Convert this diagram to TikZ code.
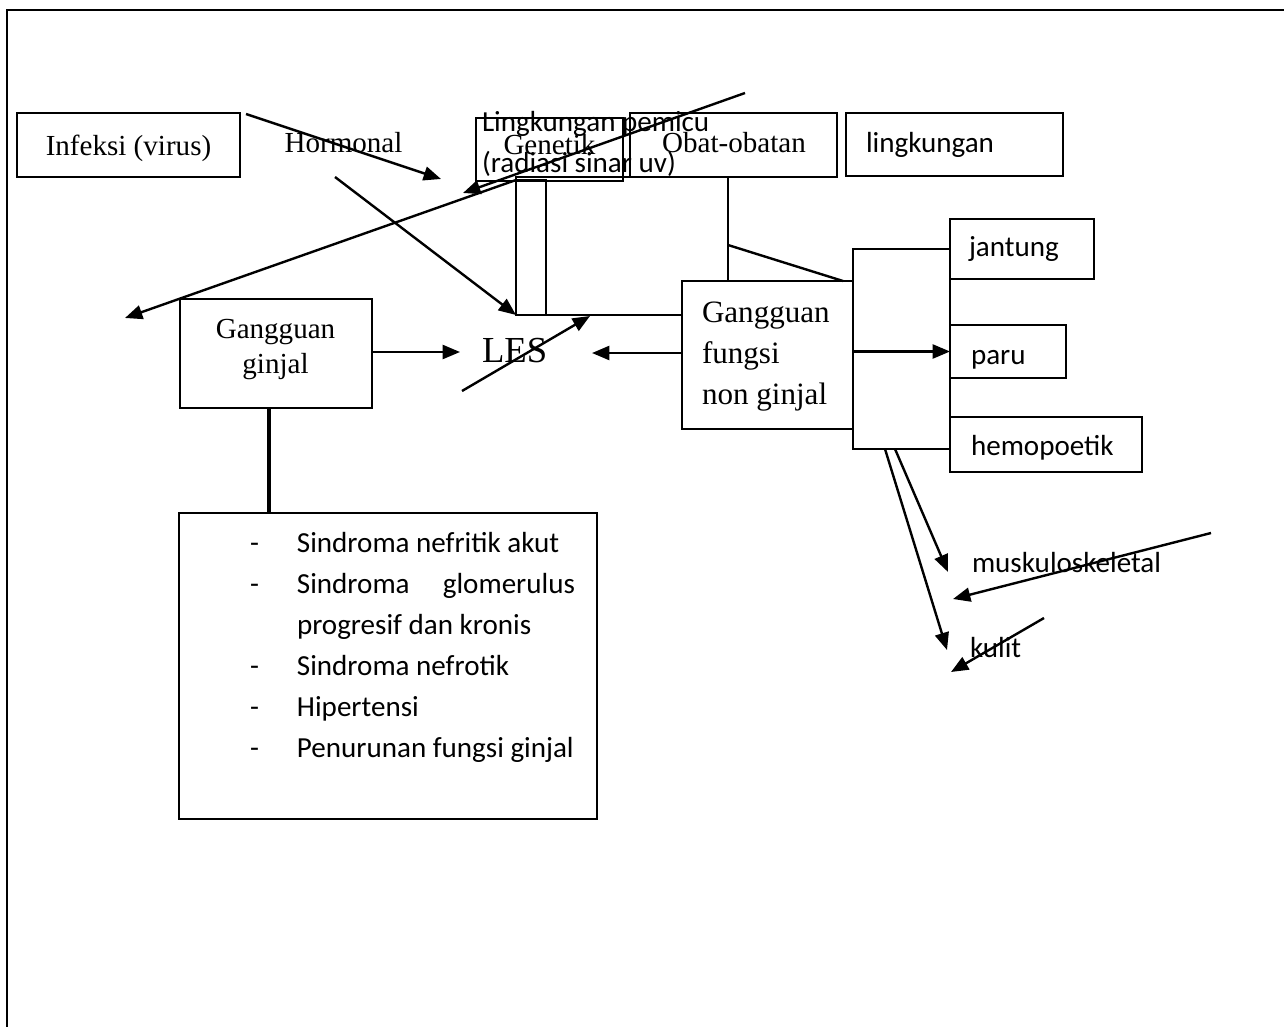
\documentclass[tikz,border=0pt]{standalone}
\usepackage{fontspec}
\setmainfont{Liberation Serif}
\newfontfamily\carl{Carlito}
\usetikzlibrary{arrows.meta}
\begin{document}
\begin{tikzpicture}[x=0.75pt,y=-0.75pt,
  box/.style={draw, line width=1.5pt, inner sep=0pt, outer sep=0pt},
  ln/.style={line width=1.8pt},
  arr/.style={ln, -{Triangle[length=13pt,width=10.5pt]}},
  txt/.style={inner sep=0pt, outer sep=0pt},
  serif/.style={txt, font=\fontsize{21.8pt}{26pt}\selectfont},
  sans/.style={txt, font=\carl\fontsize{21.8pt}{30.75pt}\selectfont}]
\useasboundingbox (0,0) rectangle (1284,1027);
\fill[white] (0,0) rectangle (1284,1027);
% page frame
\draw[line width=1.8pt] (7,1030) -- (7,10) -- (1290,10);

% boxes
\node[box, minimum width=167.25pt, minimum height=48pt] (infeksi) at (128.5,145) {};
\node[box, minimum width=110.25pt, minimum height=47.25pt] (genetik) at (549.5,149.5) {};
\node[box, minimum width=155.25pt, minimum height=48pt] (obat) at (733.5,145) {};
\node[box, minimum width=162.75pt, minimum height=47.25pt] (lingk) at (954.5,144.5) {};
\node[box, minimum width=144pt, minimum height=81.75pt] (ginjal) at (276,353.5) {};
\node[box, minimum width=128.25pt, minimum height=111pt] (fungsi) at (767.5,355) {};
\node[box, minimum width=108pt, minimum height=45pt] (jantung) at (1022,249) {};
\node[box, minimum width=87pt, minimum height=39.75pt] (paru) at (1008,351.5) {};
\node[box, minimum width=144pt, minimum height=41.25pt] (hemo) at (1046,444.5) {};
\node[box, minimum width=313.5pt, minimum height=229.5pt] (listbox) at (388,666) {};
\node[box, minimum width=22.5pt, minimum height=101.25pt] (narrow) at (531,247.5) {};

% texts
\node[serif, anchor=base] (tinfeksi) at (128.5,156) {Infeksi (virus)};
\node[serif, anchor=base] (thormonal) at (343.5,153) {Hormonal};
\node[serif, anchor=base] (tgenetik) at (549.5,155) {Genetik};
\node[serif, anchor=base] (tobat) at (734,152) {Obat-obatan};
\node[sans, anchor=base west] (tlingk) at (866,152) {lingkungan};
\node[sans, anchor=base west] (tpemicu) at (482,132)
  {\begin{tabular}[t]{@{}l@{}}Lingkungan pemicu\\(radiasi sinar uv)\end{tabular}};
\node[txt, anchor=base west, font=\fontsize{27.5pt}{30pt}\selectfont] (les) at (482,362) {LES};
\node[txt, anchor=base, font=\fontsize{21.8pt}{26.25pt}\selectfont] (tginjal) at (275.5,338)
  {\begin{tabular}[t]{@{}c@{}}Gangguan\\ginjal\end{tabular}};
\node[txt, anchor=base west, font=\fontsize{23.3pt}{31.1pt}\selectfont] (tfungsi) at (702,322)
  {\begin{tabular}[t]{@{}l@{}}Gangguan\\fungsi\\non ginjal\end{tabular}};
\node[sans, anchor=base west] (tjantung) at (969,256) {jantung};
\node[sans, anchor=base west] (tparu) at (971,364) {paru};
\node[sans, anchor=base west] (themo) at (971,455) {hemopoetik};
\node[sans, anchor=base west] (tmusk) at (972,572) {muskuloskeletal};
\node[sans, anchor=base west] (tkulit) at (970,657) {kulit};
\node[sans, anchor=base west] (tlist) at (250,552)
  {\begin{tabular}[t]{@{}p{35.25pt}@{}l@{}}
  - & Sindroma nefritik akut\\
  - & \makebox[208.5pt][l]{Sindroma\hfill glomerulus}\\
    & progresif dan kronis\\
  - & Sindroma nefrotik\\
  - & Hipertensi\\
  - & Penurunan fungsi ginjal
  \end{tabular}};

% free ends
\coordinate (infA) at (246,114);
\coordinate (infB) at (441,179);
\coordinate (horA) at (335,177);
\coordinate (lngA) at (745,93);
\coordinate (lngB) at (463,193);
\coordinate (lftB) at (125,318);
\coordinate (crsA) at (462,391);
\coordinate (crsB) at (590,316);
\coordinate (lesL) at (460,352);
\coordinate (lesR) at (592,353);
\coordinate (rtl) at (516,177);
\coordinate (rtr) at (728,177);
\coordinate (dgA) at (728,245);
\coordinate (dgB) at (843,281);
\coordinate (brT) at (853,249);
\coordinate (brB) at (853,449);
\coordinate (brBR) at (950,449);
\coordinate (mA) at (895,449);
\coordinate (mB) at (948,572);
\coordinate (kA) at (885,449);
\coordinate (kB) at (947,650);
\coordinate (m2A) at (1211,533);
\coordinate (m2B) at (953,599);
\coordinate (k2A) at (1044,618);
\coordinate (k2B) at (951,672);

% connectors
\draw[arr] (infA) -- (infB);
\draw[arr] (horA) -- (narrow.south west);
\draw[arr] (lngA) -- (lngB);
\draw[arr] (narrow.north west) -- (lftB);
\draw[arr] (crsA) -- (crsB);
\draw[arr] (ginjal.east |- lesL) -- (lesL);
\draw[arr] (fungsi.west |- lesR) -- (lesR);
\draw[ln] (fungsi.west |- narrow.south) -- (narrow.south west) -- (rtl) -- (rtr) -- (rtr |- fungsi.north);
\draw[ln] (dgA) -- (dgB);
\draw[line width=3pt] (ginjal.south -| 269,0) -- (listbox.north -| 269,0);
\draw[ln] (jantung.west) -- (brT) -- (brB) -- (brBR);
\draw[ln] (jantung.west) -- (brBR);
\draw[arr] (brT |- paru.west) -- (paru.west);
\draw[arr] (mA) -- (mB);
\draw[arr] (kA) -- (kB);
\draw[arr] (m2A) -- (m2B);
\draw[arr] (k2A) -- (k2B);
\end{tikzpicture}
\end{document}
